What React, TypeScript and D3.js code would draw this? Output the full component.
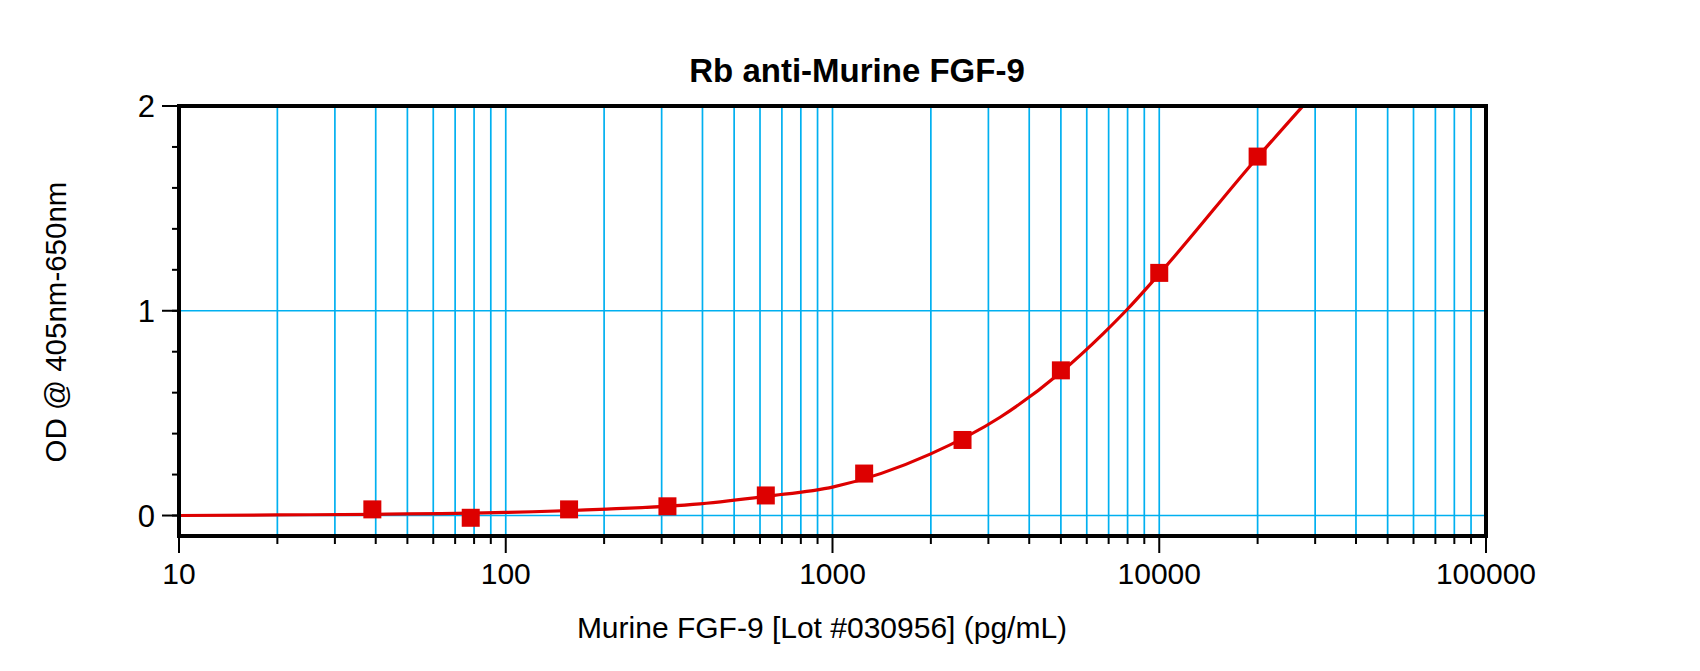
import { useMemo } from "react";
import * as d3 from "d3";

// standard concentrations (pg/mL) and measured OD
const concentrations = [39.06, 78.13, 156.25, 312.5, 625, 1250, 2500, 5000, 10000, 20000];
const odValues = [0.03, -0.011, 0.03, 0.045, 0.098, 0.205, 0.369, 0.709, 1.185, 1.753];

// fitted curve
const curveConc = [10, 20, 40, 100, 194, 393, 630, 1007, 1990, 3258, 5000, 6750, 7960, 10000, 20000, 27510];
const curveOd = [0.0, 0.003, 0.006, 0.015, 0.03, 0.057, 0.094, 0.14, 0.3, 0.48, 0.7, 0.89, 1.005, 1.18, 1.75, 2.0];

const xTickLabels = ["10", "100", "1000", "10000", "100000"];
const yTickLabels = ["0", "1", "2"];

const title = "Rb anti-Murine FGF-9";
const xTitle = "Murine FGF-9 [Lot #030956] (pg/mL)";
const yTitle = "OD @ 405nm-650nm";

const W = 1700;
const H = 671;
const margin = { left: 179, right: 214, top: 106, bottom: 135 };
const FONT = "'Liberation Sans', Arial, sans-serif";
const GRID = "#00b0f0";
const RED = "#dd0000";

export default function App() {
  const innerW = W - margin.left - margin.right;
  const innerH = H - margin.top - margin.bottom;

  const x = useMemo(
    () => d3.scaleLog().domain([10, 100000]).range([margin.left, margin.left + innerW]),
    [innerW],
  );
  const y = useMemo(
    () => d3.scaleLinear().domain([-0.1, 2]).range([margin.top + innerH, margin.top]),
    [innerH],
  );

  const majors = xTickLabels.map(Number);
  const minors = d3.range(1, 5).flatMap((e) => d3.range(2, 10).map((m) => m * Math.pow(10, e)));
  const yMinor = d3.range(0, 11).map((i) => i * 0.2);

  const curve = curveConc.map((c, i) => ({ c, v: curveOd[i] }));
  const line = d3
    .line<{ c: number; v: number }>()
    .x((d) => x(d.c))
    .y((d) => y(d.v))
    .curve(d3.curveMonotoneX);

  const x0 = margin.left;
  const x1 = margin.left + innerW;
  const y0 = margin.top + innerH;
  const y1 = margin.top;
  const sq = 18;

  return (
    <svg
      width={W}
      height={H}
      style={{ position: "absolute", left: 0, top: 0, background: "#fff" }}
      fontFamily={FONT}
    >
      <defs>
        <clipPath id="plot">
          <rect x={x0} y={y1} width={innerW} height={innerH} />
        </clipPath>
      </defs>

      {/* grid */}
      {[...minors, 100, 1000, 10000].map((v) => (
        <line key={"gx" + v} x1={x(v)} x2={x(v)} y1={y1} y2={y0} stroke={GRID} strokeWidth={1.7} />
      ))}
      {[0, 1].map((v) => (
        <line key={"gy" + v} x1={x0} x2={x1} y1={y(v)} y2={y(v)} stroke={GRID} strokeWidth={1.7} />
      ))}

      {/* fitted curve */}
      <path d={line(curve) ?? ""} fill="none" stroke={RED} strokeWidth={3.2} clipPath="url(#plot)" />

      {/* points */}
      {concentrations.map((c, i) => (
        <rect
          key={c}
          x={x(c) - sq / 2}
          y={y(odValues[i]) - sq / 2}
          width={sq}
          height={sq}
          fill={RED}
        />
      ))}

      {/* frame */}
      <rect x={x0} y={y1} width={innerW} height={innerH} fill="none" stroke="#000" strokeWidth={4} />

      {/* x ticks */}
      {minors.map((v) => (
        <line key={"tx" + v} x1={x(v)} x2={x(v)} y1={y0} y2={y0 + 8} stroke="#000" strokeWidth={2} />
      ))}
      {majors.map((v, i) => (
        <g key={"mx" + v}>
          <line x1={x(v)} x2={x(v)} y1={y0} y2={y0 + 17} stroke="#000" strokeWidth={2} />
          <text x={x(v)} y={584} textAnchor="middle" fontSize={30}>
            {xTickLabels[i]}
          </text>
        </g>
      ))}

      {/* y ticks */}
      {yMinor.map((v) => (
        <line key={"ty" + v} x1={x0 - 7} x2={x0} y1={y(v)} y2={y(v)} stroke="#000" strokeWidth={2} />
      ))}
      {yTickLabels.map((t) => (
        <g key={"my" + t}>
          <line x1={x0 - 17} x2={x0} y1={y(+t)} y2={y(+t)} stroke="#000" strokeWidth={2} />
          <text x={155} y={y(+t)} dy="0.36em" textAnchor="end" fontSize={31}>
            {t}
          </text>
        </g>
      ))}

      {/* titles */}
      <text x={857} y={82} textAnchor="middle" fontSize={33} fontWeight="bold">
        {title}
      </text>
      <text x={822} y={638} textAnchor="middle" fontSize={30}>
        {xTitle}
      </text>
      <text
        transform={`translate(66,${322}) rotate(-90)`}
        textAnchor="middle"
        fontSize={29.5}
      >
        {yTitle}
      </text>
    </svg>
  );
}
